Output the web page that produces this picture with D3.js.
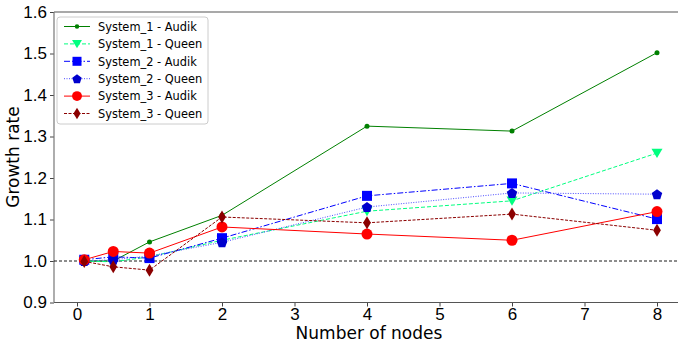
<!DOCTYPE html>
<html>
<head>
<meta charset="utf-8">
<script src="https://cdn.jsdelivr.net/npm/d3@7"></script>
<style>
  body { margin: 0; background: #fff; }
  svg { font-family: "DejaVu Sans", sans-serif; }
</style>
</head>
<body>
<div id="chart"></div>
<script>
// data
var nodes = [0.1, 0.5, 1, 2, 4, 6, 8]
var s1Audik = [1.000, 1.000, 1.046, 1.110, 1.325, 1.313, 1.502]
var s1Queen = [1.000, 0.998, 1.010, 1.050, 1.120, 1.145, 1.260]
var s2Audik = [1.003, 1.010, 1.007, 1.055, 1.157, 1.187, 1.101]
var s2Queen = [1.000, 1.003, 1.012, 1.045, 1.130, 1.164, 1.161]
var s3Audik = [1.003, 1.023, 1.019, 1.082, 1.065, 1.050, 1.119]
var s3Queen = [0.999, 0.986, 0.978, 1.106, 1.092, 1.113, 1.074]
var seriesNames = ["System_1 - Audik", "System_1 - Queen", "System_2 - Audik",
    "System_2 - Queen", "System_3 - Audik", "System_3 - Queen"]
var yTicks = [0.9, 1.0, 1.1, 1.2, 1.3, 1.4, 1.5, 1.6]
var xTicks = [0, 1, 2, 3, 4, 5, 6, 7, 8]

var series = [
    { name: seriesNames[0], values: s1Audik, color: "#008000", dash: null, marker: "circle", size: 5 },
    { name: seriesNames[1], values: s1Queen, color: "#00ff7f", dash: "4,2", marker: "tri", size: 11 },
    { name: seriesNames[2], values: s2Audik, color: "#0000ff", dash: "6,2,1.5,2", marker: "square", size: 10 },
    { name: seriesNames[3], values: s2Queen, color: "#0000cd", lineColor: "#4d4dff", dash: "1,1.5", marker: "pent", size: 11 },
    { name: seriesNames[4], values: s3Audik, color: "#ff0000", dash: null, marker: "circle", size: 11 },
    { name: seriesNames[5], values: s3Queen, color: "#8b0000", dash: "3,1.5", marker: "diamond", size: 13 }
]

var width = 678, height = 343
var plotLeft = 54, plotTop = 12, plotBottom = 302.5
var fs = 17

var svg = d3.select("#chart").append("svg")
    .attr("width", width)
    .attr("height", height)

var x = d3.scaleLinear().domain([0, 8]).range([77, 657])
var y = d3.scaleLinear().domain([0.9, 1.6]).range([plotBottom, plotTop])

// axes
var xAxis = svg.append("g")
    .attr("transform", "translate(0," + plotBottom + ")")
    .call(d3.axisBottom(x).tickValues(xTicks).tickSize(4).tickPadding(1).tickFormat(d3.format("d")))
xAxis.select(".domain").remove()
xAxis.selectAll("line").attr("stroke", "#444")
xAxis.selectAll("text").attr("font-size", fs).attr("fill", "#000")

var yAxis = svg.append("g")
    .attr("transform", "translate(" + plotLeft + ",0)")
    .call(d3.axisLeft(y).tickValues(yTicks).tickSize(4).tickPadding(3).tickFormat(d3.format(".1f")))
yAxis.select(".domain").remove()
yAxis.selectAll("line").attr("stroke", "#444")
yAxis.selectAll("text").attr("font-size", fs).attr("fill", "#000")

// spines (no right spine, it is cut off)
svg.append("line").attr("x1", plotLeft).attr("x2", width).attr("y1", plotTop).attr("y2", plotTop)
    .attr("stroke", "#555").attr("stroke-width", 1.2)
svg.append("line").attr("x1", plotLeft).attr("x2", width).attr("y1", plotBottom).attr("y2", plotBottom)
    .attr("stroke", "#555").attr("stroke-width", 1.2)
svg.append("line").attr("x1", plotLeft).attr("x2", plotLeft).attr("y1", plotTop).attr("y2", plotBottom)
    .attr("stroke", "#777").attr("stroke-width", 1.2)

// reference line at 1.0
svg.append("line").attr("x1", plotLeft).attr("x2", width)
    .attr("y1", y(1.0)).attr("y2", y(1.0))
    .attr("stroke", "#000").attr("stroke-width", 0.9).attr("stroke-dasharray", "3,2")

// axis labels
svg.append("text").attr("x", 369).attr("y", 339).attr("text-anchor", "middle")
    .attr("font-size", fs).text("Number of nodes")
svg.append("text").attr("transform", "translate(19,157) rotate(-90)").attr("text-anchor", "middle")
    .attr("font-size", fs).text("Growth rate")

function markerPath(type, s) {
    var h = s / 2
    if (type == "tri") return "M" + (-h) + "," + (-h * 0.8) + "L" + h + "," + (-h * 0.8) + "L0," + (h * 0.9) + "Z"
    if (type == "square") return "M" + (-h) + "," + (-h) + "H" + h + "V" + h + "H" + (-h) + "Z"
    if (type == "diamond") return "M0," + (-h) + "L" + (h * 0.6) + ",0L0," + h + "L" + (-h * 0.6) + ",0Z"
    if (type == "pent") {
        var pts = d3.range(5).map(function (i) {
            var a = -Math.PI / 2 + i * 2 * Math.PI / 5
            return [h * Math.cos(a), h * Math.sin(a) + 0.5]
        })
        return "M" + pts.join("L") + "Z"
    }
    return d3.symbol().type(d3.symbolCircle).size(Math.PI * h * h)()
}

var line = d3.line()
    .x(function (d) { return x(d[0]) })
    .y(function (d) { return y(d[1]) })

var plot = svg.append("g")
series.forEach(function (s) {
    var pts = nodes.map(function (n, i) { return [n, s.values[i]] })
    plot.append("path")
        .attr("d", line(pts))
        .attr("fill", "none")
        .attr("stroke", s.lineColor || s.color)
        .attr("stroke-width", 1)
        .attr("stroke-dasharray", s.dash)
    plot.selectAll(null).data(pts).enter().append("path")
        .attr("d", markerPath(s.marker, s.size))
        .attr("transform", function (d) { return "translate(" + x(d[0]) + "," + y(d[1]) + ")" })
        .attr("fill", s.color)
})

// legend
var lg = svg.append("g").attr("transform", "translate(57,17)")
lg.append("rect").attr("width", 151).attr("height", 107).attr("rx", 3)
    .attr("fill", "#fff").attr("fill-opacity", 0.8).attr("stroke", "#ccc")
series.forEach(function (s, i) {
    var yy = 9.5 + i * 17.4
    lg.append("line").attr("x1", 7).attr("x2", 33).attr("y1", yy).attr("y2", yy)
        .attr("stroke", s.lineColor || s.color).attr("stroke-width", 1).attr("stroke-dasharray", s.dash)
    lg.append("path").attr("d", markerPath(s.marker, s.size * 0.9))
        .attr("transform", "translate(20," + yy + ")").attr("fill", s.color)
    lg.append("text").attr("x", 41).attr("y", yy + 4.2).attr("font-size", 11.4).text(s.name)
})
</script>
</body>
</html>
